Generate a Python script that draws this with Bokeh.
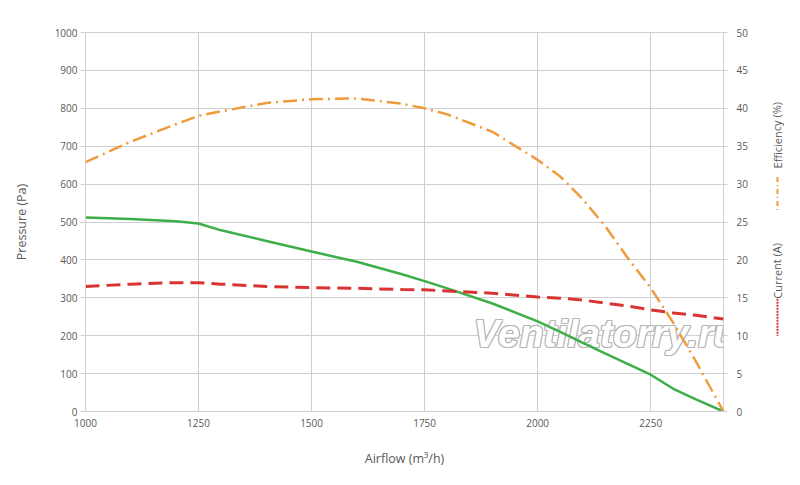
from bokeh.plotting import figure
from bokeh.models import Range1d, LinearAxis, FixedTicker, Label
from bokeh.layouts import row
from bokeh.core.properties import value
from bokeh.embed import file_html
from bokeh.resources import INLINE

# values
airflow = [1000, 1100, 1200, 1250, 1300, 1400, 1500, 1600, 1700, 1750, 1800,
           1900, 2000, 2050, 2100, 2150, 2200, 2250, 2300, 2350, 2411]
pressure = [512, 508, 502, 496, 478, 450, 422, 395, 362, 344, 325,
            285, 238, 210, 181, 153, 125, 97, 60, 32, 0]
efficiency = [32.9, 35.6, 37.9, 39.0, 39.6, 40.7, 41.2, 41.3, 40.6, 40.0, 39.2,
              36.9, 33.2, 31.0, 28.0, 24.4, 20.2, 16.3, 11.7, 6.6, 0]
current = [16.5, 16.8, 17.0, 17.0, 16.8, 16.5, 16.35, 16.25, 16.1, 16.05, 15.9,
           15.6, 15.1, 14.95, 14.7, 14.3, 13.9, 13.4, 13.0, 12.7, 12.2]

x_ticks = [1000, 1250, 1500, 1750, 2000, 2250]
p_ticks = list(range(0, 1001, 100))
r_ticks = list(range(0, 51, 5))
legend_labels = ["Efficiency (%)", "Current (A)"]

FONT = "Open Sans"
TXT = "#595959"
GRID = "#cfcfcf"
GREEN, RED, ORANGE = "#3daf49", "#d93434", "#ef9b3c"

p = figure(width=756, height=469, output_backend="svg", toolbar_location=None,
           x_range=Range1d(1000, 2411), y_range=Range1d(0, 1000),
           min_border_left=85, min_border_right=33, min_border_top=32, min_border_bottom=57)
p.extra_y_ranges = {"right": Range1d(0, 50)}
p.outline_line_color = GRID
p.grid.grid_line_color = GRID

p.xaxis.ticker = FixedTicker(ticks=x_ticks)
p.yaxis.ticker = FixedTicker(ticks=p_ticks)
p.xgrid.ticker = FixedTicker(ticks=x_ticks)
p.ygrid.ticker = FixedTicker(ticks=p_ticks)

right = LinearAxis(y_range_name="right", ticker=FixedTicker(ticks=r_ticks))
p.add_layout(right, "right")

for ax in p.axis:
    ax.axis_line_color = GRID
    ax.major_tick_line_color = GRID
    ax.minor_tick_line_color = None
    ax.major_tick_in = 0
    ax.major_label_text_font = FONT
    ax.major_label_text_font_size = "10px"
    ax.major_label_text_color = TXT
    ax.axis_label_text_font = FONT
    ax.axis_label_text_font_size = "12.5px"
    ax.axis_label_text_font_style = "normal"
    ax.axis_label_text_color = TXT

p.xaxis.major_tick_out = 0
p.xaxis.major_label_standoff = 7
p.xaxis.axis_label = "Airflow (m³/h)"
p.xaxis.axis_label_standoff = 20

p.yaxis[0].major_tick_out = 5
p.yaxis[0].major_label_standoff = 3
p.yaxis[0].axis_label = "Pressure (Pa)"
p.yaxis[0].axis_label_standoff = 22

right.axis_line_color = None
right.major_tick_out = 4
right.major_label_standoff = 9

# watermark: white letters with a grey rim
wm = dict(x=388, y=57, x_units="screen", y_units="screen", text="Ventilatorry.ru",
          text_font="Liberation Sans", text_font_size="39px",
          text_font_style="bold italic", level="underlay")
for dx, dy in [(-1, 0), (1, 0), (0, -1), (0, 1), (-1, -1), (1, 1), (-1, 1), (1, -1)]:
    p.add_layout(Label(x_offset=dx, y_offset=dy, text_color="#b5b5b5", **wm))
p.add_layout(Label(text_color="white", **wm))

p.line(airflow, pressure, line_color=GREEN, line_width=2.5)
p.line(airflow, current, y_range_name="right", line_color=RED,
       line_width=3, line_dash="14 7")
p.line(airflow, efficiency, y_range_name="right", line_color=ORANGE,
       line_width=2.5, line_dash="14 5 2 5")

# rotated legend in a narrow strip to the right (its frame lines up with the main one)
leg = figure(width=28, height=469, output_backend="svg", toolbar_location=None,
             x_range=Range1d(0, 28), y_range=Range1d(0, 380),
             min_border_left=0, min_border_right=0, min_border_top=32, min_border_bottom=57,
             outline_line_color=None)
leg.axis.visible = False
leg.grid.visible = False
leg.text(x=[20.5, 20.5], y=[277, 141], text=legend_labels, angle=1.5708,
         text_align="center", text_baseline="middle", text_font=value(FONT),
         text_font_size="11px", text_color=TXT)
leg.line([21, 21], [235, 199], line_color=ORANGE, line_width=2, line_dash="5 3 1 3")
leg.line([21, 21], [113, 76], line_color=RED, line_width=2, line_dash="2 1")

open("out.html", "w").write(file_html(row(p, leg), INLINE))
